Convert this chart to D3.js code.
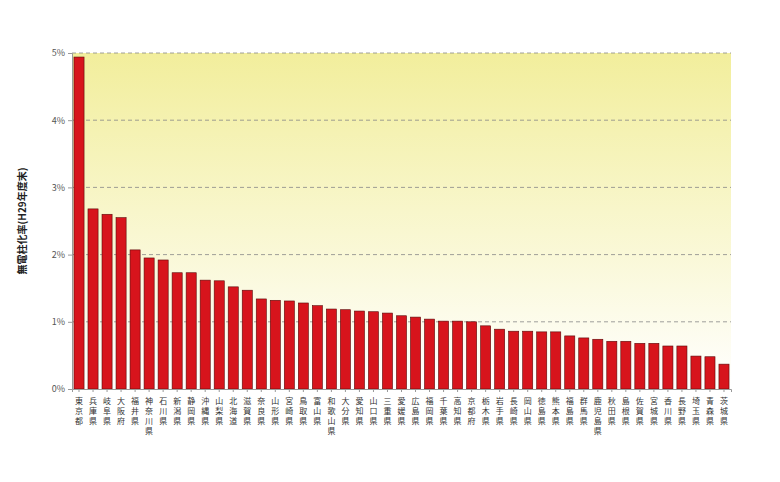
<!DOCTYPE html><html><head><meta charset="utf-8"><script src="https://cdn.jsdelivr.net/npm/d3@7"></script>
<style>body{margin:0;background:#fff}</style></head><body><svg id="c" width="780" height="482"></svg>
<script>
const categories=["東京都","兵庫県","岐阜県","大阪府","福井県","神奈川県","石川県","新潟県","静岡県","沖縄県","山梨県","北海道","滋賀県","奈良県","山形県","宮崎県","鳥取県","富山県","和歌山県","大分県","愛知県","山口県","三重県","愛媛県","広島県","福岡県","千葉県","高知県","京都府","栃木県","岩手県","長崎県","岡山県","徳島県","熊本県","福島県","群馬県","鹿児島県","秋田県","島根県","佐賀県","宮城県","香川県","長野県","埼玉県","青森県","茨城県"];
const values=[4.94,2.68,2.60,2.55,2.07,1.95,1.92,1.73,1.73,1.62,1.61,1.52,1.47,1.34,1.32,1.31,1.28,1.24,1.19,1.18,1.16,1.15,1.13,1.09,1.07,1.04,1.01,1.01,1.00,0.94,0.89,0.86,0.86,0.85,0.85,0.79,0.76,0.74,0.71,0.71,0.68,0.68,0.64,0.64,0.49,0.48,0.37];
const yTicks=[0,1,2,3,4,5];
const yTitle="無電柱化率(H29年度末)";
const svg=d3.select("#c");
const L=72,R=731,T=53,B=389;
const x=d3.scaleBand().domain(categories).range([L,R]).paddingInner(0.28).paddingOuter(0.14);
const y=d3.scaleLinear().domain([0,5]).range([B,T]);
const g=svg.append("defs").append("linearGradient").attr("id","bg").attr("x1",0).attr("x2",0).attr("y1",0).attr("y2",1);
g.append("stop").attr("offset","0%").attr("stop-color","#f2ee9c");
g.append("stop").attr("offset","100%").attr("stop-color","#ffffff");
svg.append("rect").attr("x",L).attr("y",T).attr("width",R-L).attr("height",B-T).attr("fill","url(#bg)");
svg.append("g").selectAll("line").data(yTicks.filter(d=>d>0)).join("line")
 .attr("x1",L).attr("x2",R).attr("y1",d=>y(d)).attr("y2",d=>y(d))
 .attr("stroke","#888").attr("stroke-dasharray","4,3").attr("stroke-width",0.8);
svg.append("g").selectAll("rect").data(values).join("rect")
 .attr("x",(d,i)=>x(categories[i])).attr("width",x.bandwidth())
 .attr("y",d=>y(d)).attr("height",d=>B-y(d))
 .attr("fill","#d7141c").attr("stroke","#5a0a0a").attr("stroke-width",0.6);
const ya=svg.append("g").attr("transform",`translate(${L},0)`).call(d3.axisLeft(y).tickValues(yTicks).tickFormat(d=>d+"%").tickSize(4));
ya.select(".domain").attr("stroke","#999");
ya.selectAll(".tick line").attr("stroke","#999");
ya.selectAll("text").attr("font-family","Noto Sans CJK JP").attr("font-size",9).attr("fill","#555");
const xa=svg.append("g").attr("transform",`translate(0,${B})`).call(d3.axisBottom(x).tickSize(3).tickFormat(""));
xa.select(".domain").attr("stroke","#999");
xa.selectAll(".tick line").attr("stroke","#999");
const lab=svg.append("g");
categories.forEach(c=>{
  const cx=x(c)+x.bandwidth()/2;
  const t=lab.append("text").attr("font-family","Noto Sans CJK JP").attr("font-size",8).attr("fill","#333").attr("text-anchor","middle");
  [...c].forEach((ch,k)=>t.append("tspan").attr("x",cx).attr("y",B+15+k*10).text(ch));
});
svg.append("text").attr("transform",`translate(26,${(T+B)/2}) rotate(-90)`).attr("text-anchor","middle")
 .attr("font-family","Noto Sans CJK JP").attr("font-weight","bold").attr("font-size",10).attr("fill","#222").text(yTitle);
</script></body></html>
